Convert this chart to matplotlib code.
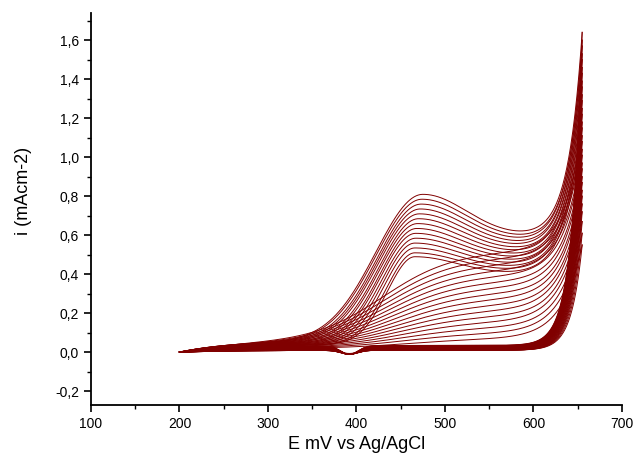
import numpy as np
import matplotlib
matplotlib.use('Agg')
import matplotlib.pyplot as plt
from matplotlib.ticker import MultipleLocator, FuncFormatter

plt.rcParams['font.family'] = ['Liberation Sans', 'DejaVu Sans']

# potential window of the scan (mV vs Ag/AgCl)
E_start, E_vertex = 200, 655

# forward scans, cycle by cycle
# first 14 cycles: sharp oxidation peak near 470 mV, later ones: broad wave
peak_E = [475, 474, 473, 472, 471, 470, 469, 468, 467, 467, 466, 466, 466, 466,
          430, 432, 434, 436, 438, 440, 442, 444, 446, 448, 450, 452, 454, 456, 458, 460]
peak_i = [0.81, 0.785, 0.76, 0.735, 0.71, 0.685, 0.66, 0.635, 0.61, 0.585, 0.56, 0.535, 0.51, 0.49,
          0.52, 0.49, 0.46, 0.43, 0.40, 0.37, 0.34, 0.31, 0.28, 0.25, 0.22, 0.19, 0.16, 0.13, 0.10, 0.07]
rise_mV = [75, 73, 70, 68, 66, 63, 61, 58, 56, 54, 51, 49, 46, 44,
           40, 40, 40, 40, 40, 40, 40, 40, 40, 40, 40, 40, 40, 40, 40, 40]
plateau_i = [0.59, 0.575, 0.56, 0.545, 0.53, 0.515, 0.50, 0.485, 0.47, 0.455, 0.44, 0.425, 0.41, 0.395,
             0.52, 0.49, 0.46, 0.43, 0.40, 0.37, 0.34, 0.31, 0.28, 0.25, 0.22, 0.19, 0.16, 0.13, 0.10, 0.07]
foot_i = [0.06, 0.06, 0.06, 0.058, 0.056, 0.054, 0.052, 0.05, 0.048, 0.046, 0.044, 0.042, 0.04, 0.04,
          0.05, 0.048, 0.046, 0.044, 0.042, 0.04, 0.038, 0.036, 0.034, 0.032, 0.03, 0.028, 0.026, 0.024, 0.022, 0.02]
end_i = [1.64, 1.60, 1.57, 1.53, 1.50, 1.46, 1.43, 1.39, 1.36, 1.32, 1.29, 1.25, 1.22, 1.18,
         1.15, 1.11, 1.08, 1.04, 1.01, 0.97, 0.94, 0.90, 0.87, 0.83, 0.80, 0.76, 0.72, 0.67, 0.61, 0.55]
tail_mV = [16, 16, 16.5, 16.5, 17, 17, 17.5, 17.5, 18, 18, 18.5, 18.5, 19, 19,
           19.5, 19.5, 20, 20, 20.5, 20.5, 21, 21, 21.5, 21.5, 22, 22, 22.5, 22.5, 23, 23]
# reverse scans: residual current and cathodic dip near 390 mV
rev_i = [0.035, 0.034, 0.033, 0.032, 0.031, 0.030, 0.029, 0.028, 0.027, 0.026, 0.025, 0.024, 0.023, 0.022,
         0.021, 0.020, 0.019, 0.018, 0.017, 0.016, 0.015, 0.014, 0.013, 0.012, 0.011, 0.010, 0.010, 0.010, 0.010, 0.010]
dip_i = [0.045, 0.044, 0.043, 0.042, 0.041, 0.040, 0.039, 0.038, 0.037, 0.036, 0.035, 0.034, 0.033, 0.032,
         0.031, 0.030, 0.029, 0.028, 0.027, 0.026, 0.025, 0.024, 0.023, 0.022, 0.021, 0.020, 0.019, 0.018, 0.017, 0.016]

n_sharp = 14
color = '#800000'


def forward_scan(k, E):
    foot = foot_i[k] * (1 - np.exp(-(E - E_start) / 60))
    ip, pl, Ep = peak_i[k] - foot_i[k], plateau_i[k] - foot_i[k], peak_E[k]
    if k < n_sharp:
        core = np.where(E < Ep, ip * np.exp(-((E - Ep) / rise_mV[k]) ** 2),
                        pl + (ip - pl) * np.exp(-((E - Ep) / 70) ** 2))
    else:
        core = ip / (1 + np.exp(-(E - Ep) / rise_mV[k]))
    i = foot + core
    tail = end_i[k] - i[-1]
    return i + tail * np.exp((E - E_vertex) / tail_mV[k])


def reverse_scan(k, E):
    base = rev_i[k] * (1 - np.exp(-(E - E_start) / 60))
    dip = dip_i[k] * np.exp(-((E - 392) / 14) ** 2)
    i = base - dip
    return i + (end_i[k] - i[-1]) * np.exp((E - E_vertex) / 12)


E = np.linspace(E_start, E_vertex, 600)

fig, ax = plt.subplots(figsize=(6.36, 4.58), dpi=100)
fig.subplots_adjust(left=0.143, right=0.978, bottom=0.116, top=0.972)

for k in range(len(end_i)):
    ax.plot(E, forward_scan(k, E), color=color, lw=0.7)
    ax.plot(E, reverse_scan(k, E), color=color, lw=0.7)

ax.set_xlim(100, 700)
ax.set_ylim(-0.27, 1.74)
ax.xaxis.set_major_locator(MultipleLocator(100))
ax.xaxis.set_minor_locator(MultipleLocator(50))
ax.yaxis.set_major_locator(MultipleLocator(0.2))
ax.yaxis.set_minor_locator(MultipleLocator(0.1))
ax.yaxis.set_major_formatter(FuncFormatter(lambda v, p: f'{v:.1f}'.replace('.', ',')))
for side in ('top', 'right'):
    ax.spines[side].set_visible(False)
for side in ('left', 'bottom'):
    ax.spines[side].set_linewidth(1.3)
ax.tick_params(which='major', direction='out', length=5, width=1.2, labelsize=10)
ax.tick_params(which='minor', direction='out', length=3, width=1.0)
ax.set_xlabel('E mV vs Ag/AgCl', fontsize=13)
ax.set_ylabel('i (mAcm-2)', fontsize=13)
ax.yaxis.set_label_coords(-0.111, 0.546)

fig.savefig('out.png', dpi=100)
